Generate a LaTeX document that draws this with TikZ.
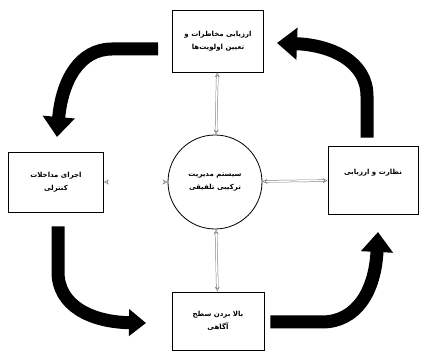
\documentclass[tikz,border=0pt]{standalone}
\usepackage{fontspec}
\newfontfamily\farsi[Script=Arabic]{DejaVu Sans}
\TeXXeTstate=1
\usetikzlibrary{arrows.meta}

\tikzset{
  box/.style={draw, line width=0.8pt, fill=white, align=center,
    minimum width=91pt, minimum height=62pt, inner sep=2pt,
    font=\farsi\bfseries\fontsize{7}{13}\selectfont},
  hub/.style={circle, draw, line width=0.8pt, fill=white, align=center,
    minimum size=94pt, inner sep=0pt, font=\farsi\bfseries\fontsize{7}{13}\selectfont},
  link/.style={gray, double, double distance=1.4pt, line width=0.5pt,
    {Stealth[open,length=5pt,width=5pt]}-{Stealth[open,length=5pt,width=5pt]}},
  turn/.style={line width=13pt, -{Triangle[width=31pt,length=20pt]}},
}

\begin{document}
\begin{tikzpicture}[x=1pt, y=-1pt]
    \useasboundingbox (0,0) rectangle (421,352);

    % The cycle stages
    \node[box] (risk) at (218,41) {\beginR ارزیابی مخاطرات و\endR\\ \beginR تعیین اولویت‌ها\endR};
    \node[box, minimum width=95pt, minimum height=60pt] (act) at (56,182) {\beginR اجرای مداخلات\endR\\ \beginR کنترلی\endR};
    \node[box, minimum width=90pt, minimum height=68pt] (watch) at (373,180) {\beginR نظارت و ارزیابی\endR\\ \strut};
    \node[box, minimum width=92pt, minimum height=58pt] (aware) at (218,321) {\beginR بالا بردن سطح\endR\\ \beginR آگاهی\endR};

    % Centre of the cycle
    \node[hub] (core) at (215,182) {\beginR سیستم مدیریت\endR\\ \beginR ترکیبی تلفیقی\endR};

    % Two-way links to the centre
    \draw[link] (core) -- (risk);
    \draw[link] (core) -- (act);
    \draw[link] (core) -- (watch);
    \draw[link] (core) -- (aware);

    % Big turning arrows
    \draw[turn] (risk.west |- 0,49) ++(-14,0) -- (112,49)
        .. controls (80,49) and (62,80) .. (57,137);
    \draw[turn, -{Triangle[width=26pt,length=17pt]}] (act.south) ++(2,14) -- (58,272)
        .. controls (58,305) and (90,322) .. (146,323);
    \draw[turn] (aware.east |- 0,322) ++(6,0) -- (322,322)
        .. controls (356,322) and (375,292) .. (378,232);
    \draw[turn] (watch.north) ++(-6,-8) -- (367,96)
        .. controls (367,62) and (332,45) .. (277,43);
\end{tikzpicture}
\end{document}
